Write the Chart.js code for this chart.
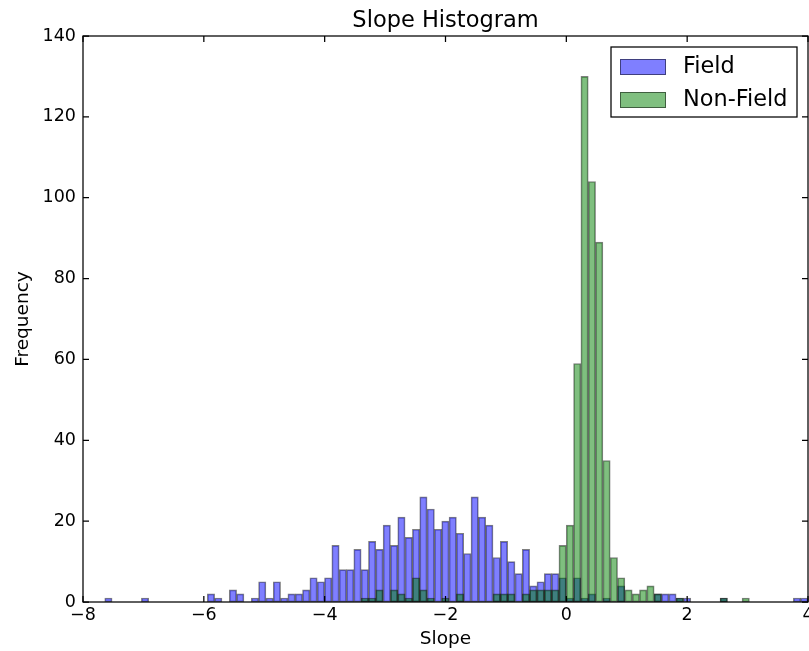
<!DOCTYPE html>
<html>
<head>
<meta charset="utf-8">
<script src="https://cdn.jsdelivr.net/npm/chart.js@4"></script>
<style>
  body { margin: 0; background: #fff; }
  #wrap { width: 809px; height: 651px; }
</style>
</head>
<body>
<div id="wrap"><canvas id="myChart" width="809" height="651"></canvas></div>
<script>
// histogram bins: 96 bins from -7.64 to 4.0
const binLow = -7.64;
const binHigh = 4.0;
const binCount = 96;

const fieldCounts = [
  1, 0, 0, 0, 0, 1, 0, 0, 0, 0, 0, 0,
  0, 0, 2, 1, 0, 3, 2, 0, 1, 5, 1, 5,
  1, 2, 2, 3, 6, 5, 6, 14, 8, 8, 13, 8,
  15, 13, 19, 14, 21, 16, 18, 26, 23, 18, 20, 21,
  17, 12, 26, 21, 19, 11, 15, 10, 7, 13, 4, 5,
  7, 7, 6, 1, 6, 1, 2, 0, 1, 0, 4, 0,
  0, 0, 0, 2, 2, 2, 1, 1, 0, 0, 0, 0,
  1, 0, 0, 0, 0, 0, 0, 0, 0, 0, 1, 1
];

const nonFieldCounts = [
  0, 0, 0, 0, 0, 0, 0, 0, 0, 0, 0, 0,
  0, 0, 0, 0, 0, 0, 0, 0, 0, 0, 0, 0,
  0, 0, 0, 0, 0, 0, 0, 0, 0, 0, 0, 1,
  1, 3, 0, 3, 2, 1, 6, 3, 1, 0, 1, 0,
  2, 0, 0, 0, 0, 2, 2, 2, 0, 2, 3, 3,
  3, 3, 14, 19, 59, 130, 104, 89, 35, 11, 6, 3,
  2, 3, 4, 2, 0, 0, 1, 0, 0, 0, 0, 0,
  1, 0, 0, 1, 0, 0, 0, 0, 0, 0, 0, 0
];

const xTicks = [-8, -6, -4, -2, 0, 2, 4];
const yTicks = [0, 20, 40, 60, 80, 100, 120, 140];

const binWidth = (binHigh - binLow) / binCount;
const centers = fieldCounts.map((_, i) => binLow + binWidth * (i + 0.5));

const FONT = "'DejaVu Sans', sans-serif";
Chart.defaults.font.family = FONT;
Chart.defaults.color = "#000";

const minus = v => String(v).replace("-", "\u2212");

// spines, inside ticks and the boxed legend like matplotlib
const frame = {
  id: "frame",
  afterDatasetsDraw(chart) {
    const { ctx, chartArea: a, scales: { x, y } } = chart;
    ctx.save();
    ctx.strokeStyle = "#000";
    ctx.lineWidth = 1.25;
    ctx.strokeRect(a.left, a.top, a.right - a.left, a.bottom - a.top);
    ctx.beginPath();
    xTicks.forEach(v => {
      const px = x.getPixelForValue(v);
      ctx.moveTo(px, a.bottom); ctx.lineTo(px, a.bottom - 6);
      ctx.moveTo(px, a.top); ctx.lineTo(px, a.top + 6);
    });
    yTicks.forEach(v => {
      const py = y.getPixelForValue(v);
      ctx.moveTo(a.left, py); ctx.lineTo(a.left + 6, py);
      ctx.moveTo(a.right, py); ctx.lineTo(a.right - 6, py);
    });
    ctx.stroke();

    // legend
    const bw = 186, bh = 70;
    const bx = a.right - 11 - bw, by = a.top + 11;
    ctx.fillStyle = "#fff";
    ctx.fillRect(bx, by, bw, bh);
    ctx.lineWidth = 1.25;
    ctx.strokeStyle = "#000";
    ctx.strokeRect(bx, by, bw, bh);
    const items = chart.data.datasets.slice().sort((p, q) => q.order - p.order);
    ctx.font = "22.4px " + FONT;
    ctx.textBaseline = "middle";
    items.forEach((ds, i) => {
      const cy = by + 20 + i * 33;
      ctx.fillStyle = "#fff";
      ctx.fillRect(bx + 9, cy - 8, 46, 16);
      ctx.fillStyle = ds.backgroundColor;
      ctx.fillRect(bx + 9, cy - 8, 46, 16);
      ctx.strokeStyle = ds.borderColor;
      ctx.lineWidth = 1;
      ctx.strokeRect(bx + 9.5, cy - 7.5, 45, 15);
      ctx.fillStyle = "#000";
      ctx.fillText(ds.label, bx + 72, cy);
    });
    ctx.restore();
  }
};

new Chart(document.getElementById("myChart"), {
  type: "bar",
  data: {
    datasets: [
      {
        label: "Field",
        data: centers.map((c, i) => ({ x: c, y: fieldCounts[i] })),
        backgroundColor: "rgba(0,0,255,0.5)",
        borderColor: "rgba(0,0,0,0.5)",
        borderWidth: 1,
        borderSkipped: false,
        order: 1
      },
      {
        label: "Non-Field",
        data: centers.map((c, i) => ({ x: c, y: nonFieldCounts[i] })),
        backgroundColor: "rgba(0,128,0,0.5)",
        borderColor: "rgba(0,0,0,0.5)",
        borderWidth: 1,
        borderSkipped: false,
        order: 0
      }
    ]
  },
  options: {
    responsive: false,
    animation: false,
    grouped: false,
    barPercentage: 1,
    categoryPercentage: 1,
    layout: { padding: { left: 0, right: 1, top: 0, bottom: 0 } },
    plugins: {
      legend: { display: false },
      tooltip: { enabled: false },
      title: {
        display: true,
        text: "Slope Histogram",
        fullSize: false,
        color: "#000",
        font: { size: 22.5, weight: "normal" },
        padding: { top: 8, bottom: 1 }
      }
    },
    scales: {
      x: {
        type: "linear",
        min: -8,
        max: 4,
        offset: false,
        grid: { display: false, drawTicks: false, offset: false },
        border: { display: false },
        afterBuildTicks: s => { s.ticks = xTicks.map(v => ({ value: v })); },
        afterFit: s => { s.height = 49; s.paddingLeft = 0; s.paddingRight = 0; },
        ticks: { autoSkip: false, maxRotation: 0, padding: 3, font: { size: 17.5 }, callback: minus },
        title: { display: true, text: "Slope", font: { size: 18.5 }, padding: { top: 0, bottom: 1 } }
      },
      y: {
        min: 0,
        max: 140,
        grid: { display: false, drawTicks: false },
        border: { display: false },
        afterBuildTicks: s => { s.ticks = yTicks.map(v => ({ value: v })); },
        afterFit: s => { s.width = 83; s.paddingTop = 0; s.paddingBottom = 0; },
        ticks: { autoSkip: false, padding: 7, font: { size: 17.5 } },
        title: { display: true, text: "Frequency", font: { size: 18.5 }, padding: { top: 12, bottom: 0 } }
      }
    }
  },
  plugins: [frame]
});
</script>
</body>
</html>
